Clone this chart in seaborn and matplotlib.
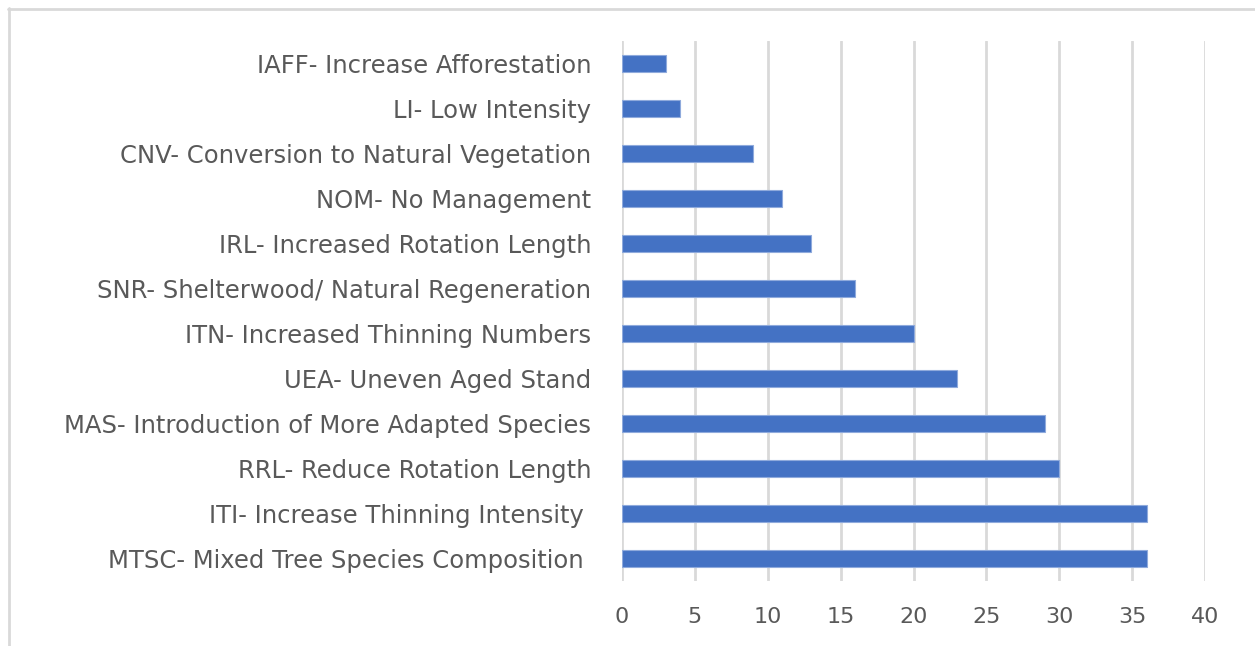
import matplotlib
matplotlib.use("Agg")
import matplotlib.pyplot as plt
from matplotlib.lines import Line2D
import seaborn as sns
import pandas as pd

categories = [
    "IAFF- Increase Afforestation",
    "LI- Low Intensity",
    "CNV- Conversion to Natural Vegetation",
    "NOM- No Management",
    "IRL- Increased Rotation Length",
    "SNR- Shelterwood/ Natural Regeneration",
    "ITN- Increased Thinning Numbers",
    "UEA- Uneven Aged Stand",
    "MAS- Introduction of More Adapted Species",
    "RRL- Reduce Rotation Length",
    "ITI- Increase Thinning Intensity ",
    "MTSC- Mixed Tree Species Composition ",
]
values = [3, 4, 9, 11, 13, 16, 20, 23, 29, 30, 36, 36]
x_ticks = [0, 5, 10, 15, 20, 25, 30, 35, 40]

df = pd.DataFrame({"measure": categories, "count": values})

sns.set_theme(style="white")
plt.rcParams["font.family"] = ["DejaVu Sans"]

fig = plt.figure(figsize=(12.55, 6.46), dpi=100)
ax = fig.add_axes([0.4956, 0.1006, 0.4646, 0.8359])

sns.barplot(data=df, x="count", y="measure", orient="h", color="#4472C4",
            saturation=1, width=0.36, edgecolor="#8FAADC", linewidth=0.8,
            ax=ax, zorder=3)

ax.set_xlim(0, 40)
ax.set_ylim(11.5, -0.5)
ax.set_xticks(x_ticks)
ax.set_xticklabels([str(t) for t in x_ticks])
ax.xaxis.grid(True, color="#D9D9D9", linewidth=2)
ax.set_axisbelow(True)
for s in ax.spines.values():
    s.set_visible(False)
ax.tick_params(axis="both", length=0, colors="#595959")
ax.tick_params(axis="y", pad=22, labelsize=17.5)
ax.tick_params(axis="x", pad=19, labelsize=16)
ax.set_xlabel("")
ax.set_ylabel("")

# outer chart frame
fig.add_artist(Line2D([8 / 1255, 1], [1 - 9 / 646, 1 - 9 / 646],
                      transform=fig.transFigure, color="#D9D9D9", linewidth=2))
fig.add_artist(Line2D([9 / 1255, 9 / 1255], [0, 1 - 8 / 646],
                      transform=fig.transFigure, color="#D9D9D9", linewidth=2))

fig.savefig("out.png", dpi=100, facecolor="white")
